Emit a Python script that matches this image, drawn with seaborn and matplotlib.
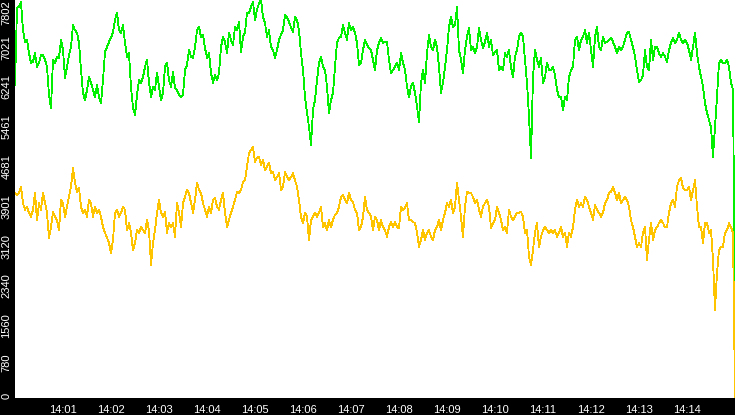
import numpy as np
import pandas as pd
import matplotlib
matplotlib.use("Agg")
import matplotlib.pyplot as plt
import matplotlib.dates as mdates
import matplotlib.transforms as mtransforms
import seaborn as sns

green_vals = [
    6140, 7650, 7670, 7760, 7210, 6980, 7020, 6760, 6570, 6590, 6760, 6490, 6570, 6720, 6720, 6630, 6490, 5940, 5690, 6630,
    6570, 6690, 6670, 7020, 6820, 6270, 6490, 6720, 6880, 7310, 7210, 7160, 6960, 6430, 5980, 5840, 6040, 6290, 6180, 6040,
    5900, 6140, 5900, 5780, 6230, 6780, 6880, 6980, 7060, 7180, 7410, 7550, 7210, 7160, 7310, 6960, 6690, 6760, 6080, 5690,
    5550, 5940, 6230, 6180, 6290, 6490, 6630, 6180, 5900, 6100, 6040, 6370, 6100, 5840, 5980, 6490, 6570, 6230, 6100, 6390,
    6080, 6040, 5940, 5900, 5940, 6430, 6530, 6820, 6690, 6670, 6880, 7210, 7270, 7080, 7120, 6860, 6670, 6760, 6370, 6180,
    6330, 6230, 6370, 6880, 7080, 6980, 6760, 7160, 7020, 6920, 7270, 7210, 7370, 6780, 7080, 7160, 7550, 7550, 7670, 7760,
    7410, 7610, 7740, 7802, 7470, 7350, 7080, 7210, 6880, 6820, 6670, 6820, 7020, 7120, 7210, 7510, 7470, 7370, 7270, 7180,
    7470, 7410, 7210, 6760, 6430, 5900, 5590, 5310, 4960, 5650, 5840, 6230, 6570, 6690, 6490, 6430, 6100, 5590, 5840, 5980,
    6490, 6960, 7060, 7080, 7310, 7160, 7020, 7350, 7210, 7270, 7160, 6960, 6530, 6570, 6820, 7020, 6920, 6860, 6820, 6630,
    6430, 6820, 6960, 7060, 6960, 6980, 6980, 6630, 6370, 6430, 6490, 6570, 6430, 6760, 6570, 6430, 6100, 5900, 6100, 6180,
    5980, 5710, 5410, 6180, 6430, 6180, 6760, 7120, 6880, 6820, 7020, 6880, 6490, 5980, 6180, 6490, 6820, 7270, 7470, 7270,
    7310, 7670, 6820, 6630, 6370, 6820, 7080, 7250, 6820, 6880, 6760, 6880, 7250, 7020, 6860, 6980, 7160, 6880, 7020, 6720,
    6780, 6820, 6430, 6490, 6430, 6760, 6690, 6820, 6490, 6290, 6690, 6820, 7080, 7160, 7080, 6630, 6180, 5510, 4710, 6290,
    6820, 6630, 6490, 6670, 6180, 6290, 6570, 6430, 6430, 6490, 6330, 6040, 5900, 5900, 5650, 5900, 5840, 6290, 6430, 6490,
    7020, 7080, 6820, 7020, 7080, 7210, 6960, 7160, 6820, 6490, 7080, 7270, 6880, 6820, 7080, 6960, 6980, 7020, 7060, 6980,
    6880, 6760, 6880, 6820, 6880, 7020, 7160, 7180, 7020, 6880, 6690, 6430, 6200, 6230, 6330, 6820, 6490, 6430, 7020, 6630,
    6880, 6880, 6760, 6690, 6760, 6690, 6590, 6820, 6960, 7060, 6960, 7020, 7160, 7020, 6960, 7020, 6960, 6820, 6630, 6880,
    7160, 6760, 6490, 6290, 6100, 5780, 5590, 5450, 5310, 4730, 5310, 5900, 6570, 6630, 6570, 6570, 6630, 6490, 6180, 6040,
    1670,
]

yellow_vals = [
    4020, 3980, 4020, 4140, 3820, 3690, 3750, 3630, 3550, 3690, 4020, 3490, 3820, 3690, 4020, 3820, 3630, 3140, 3350, 3650,
    3550, 3490, 3290, 3880, 3820, 3550, 3750, 3940, 4140, 4510, 4220, 4040, 4120, 3750, 3630, 3690, 3550, 3880, 3820, 3550,
    3750, 3630, 3690, 3550, 3350, 3240, 3140, 3040, 2840, 3100, 3630, 3690, 3550, 3630, 3750, 3690, 3290, 3430, 3240, 2900,
    3040, 3290, 3240, 3350, 3290, 3240, 3490, 3290, 2610, 3040, 3290, 3630, 3880, 3630, 3550, 3650, 3240, 3430, 3350, 3430,
    3160, 3820, 3630, 3350, 3820, 3940, 4080, 4020, 3820, 3630, 3880, 4220, 4080, 4020, 3820, 3690, 3550, 3750, 3630, 3880,
    3920, 3750, 3690, 3880, 4020, 3630, 3350, 3490, 3630, 3750, 3880, 4040, 4020, 4080, 4240, 4270, 4530, 4800, 4860, 4920,
    4630, 4710, 4730, 4570, 4670, 4470, 4530, 4610, 4410, 4430, 4270, 4330, 4410, 4080, 4140, 4430, 4330, 4270, 4330, 4410,
    4270, 4140, 3880, 3550, 3430, 3630, 3550, 3100, 3490, 3550, 3630, 3550, 3630, 3750, 3350, 3430, 3290, 3490, 3350, 3490,
    3590, 3630, 3750, 3940, 3980, 3880, 3820, 4020, 3880, 3840, 3690, 3630, 3290, 3350, 3550, 3940, 3690, 3630, 3550, 3290,
    3550, 3490, 3290, 3490, 3350, 3290, 3160, 3350, 3450, 3350, 3450, 3350, 3330, 3750, 3690, 3730, 3820, 3490, 3490, 3450,
    3430, 3240, 2960, 3100, 3290, 3100, 3240, 3290, 3160, 3100, 3290, 3350, 3490, 3290, 3490, 3630, 3820, 3750, 3880, 3630,
    3750, 4220, 3880, 3550, 3160, 3750, 4040, 4020, 4020, 3940, 3820, 3880, 3690, 3550, 3750, 3820, 3880, 3750, 3330, 3430,
    3490, 3750, 3630, 3490, 3290, 3350, 3240, 3690, 3550, 3490, 3550, 3630, 3630, 3650, 3550, 3240, 3290, 2770, 2610, 2900,
    3240, 3430, 2960, 3160, 3290, 3350, 3290, 3240, 3290, 3240, 3290, 3160, 3240, 3350, 3160, 3240, 2960, 3240, 3160, 3350,
    3690, 3880, 3750, 3820, 3750, 3940, 3880, 3750, 3630, 3490, 3780, 3690, 3630, 3550, 3630, 3820, 3880, 4020, 4040, 4140,
    4020, 3880, 4020, 3820, 3880, 3940, 3880, 3750, 3490, 3350, 3160, 2960, 3040, 2960, 3240, 3350, 2710, 3100, 3430, 3100,
    3290, 3350, 3430, 3490, 3430, 3350, 3350, 3630, 3820, 3880, 3750, 4140, 4270, 4310, 4120, 4080, 4080, 4140, 3880, 4080,
    4270, 3750, 3350, 3350, 3040, 3430, 3430, 3240, 3290, 2710, 1730, 2450, 2900, 2960, 2960, 3240, 3290, 3430, 3350, 3240,
    0,
]

y_max = 7802
series_names = ["green", "yellow"]
line_colors = ["#00f000", "#ffc400"]

times = pd.date_range("2024-01-01 14:00:00", periods=len(green_vals), freq="2500ms")
df = pd.DataFrame({
    "time": np.concatenate([times, times]),
    "value": green_vals + yellow_vals,
    "series": ["green"] * len(green_vals) + ["yellow"] * len(yellow_vals),
})

sns.set_style("white")
plt.rcParams["font.family"] = ["Liberation Sans", "DejaVu Sans"]

fig = plt.figure(figsize=(7.35, 4.15), dpi=100, facecolor="black")
ax = fig.add_axes([15 / 735, 17 / 415, 720 / 735, 398 / 415])
ax.set_facecolor("white")

sns.lineplot(data=df, x="time", y="value", hue="series", hue_order=series_names,
             palette=line_colors, linewidth=0.6, antialiased=False, legend=False,
             estimator=None, sort=False, ax=ax)

ax.set_xlim(times[0], times[-1])
ax.set_ylim(0, y_max)
for s in ax.spines.values():
    s.set_visible(False)
ax.set_xlabel("")
ax.set_ylabel("")

ax.xaxis.set_major_locator(mdates.MinuteLocator(byminute=range(1, 15)))
ax.xaxis.set_major_formatter(mdates.DateFormatter("%H:%M"))
ax.tick_params(axis="x", colors="white", labelsize=8, length=3.5, width=1, pad=1.5, direction="out")

yticks = np.linspace(0, y_max, 11)
ax.set_yticks(yticks)
ax.tick_params(axis="y", labelleft=False, color="white", length=3, width=1, direction="out")

trans = mtransforms.blended_transform_factory(ax.transAxes, ax.transData)
shift = mtransforms.ScaledTranslation(0, 0.05, fig.dpi_scale_trans)
for i, v in enumerate(yticks):
    t = trans if i == len(yticks) - 1 else trans + shift
    ax.text(-3.5 / 720, v, str(int(v)), transform=t, rotation=90, ha="right", va="top",
            color="white", fontsize=8, clip_on=False)

fig.savefig("out.png", dpi=100, facecolor="black")
